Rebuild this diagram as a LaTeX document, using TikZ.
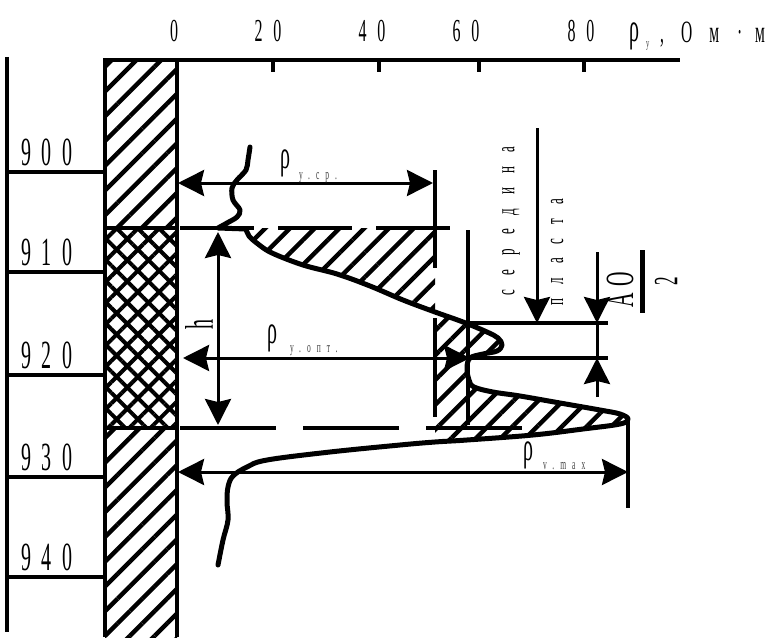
\documentclass[tikz,border=0pt]{standalone}
\usepackage{fontspec}
\setmainfont{Liberation Serif}[FakeStretch=0.5]
\usetikzlibrary{arrows.meta,patterns.meta,positioning}

\tikzstyle{border}   = [line width=4pt]
\tikzstyle{dimline}  = [line width=3pt, <->]
\tikzstyle{pointer}  = [line width=3pt, ->]
\tikzstyle{logline}  = [line width=5pt, line join=round, line cap=round]
\tikzstyle{hatched}  = [pattern={Lines[angle=45,distance=17.5pt,line width=4.5pt]}]
\tikzstyle{xhatched} = [pattern={Hatch[angle=45,distance=15pt,line width=4pt]}]
\tikzstyle{depthlbl} = [inner sep=0pt, font=\fontsize{40}{40}\selectfont\addfontfeature{LetterSpace=26}]
\tikzstyle{scalelbl} = [inner sep=0pt, font=\fontsize{32}{32}\selectfont\addfontfeature{LetterSpace=34}]
\tikzstyle{rho}      = [inner sep=0pt, anchor=base, font=\fontsize{40}{40}\selectfont]
\tikzstyle{sublbl}   = [inner sep=0pt, anchor=base west, text=black!75, font=\fontsize{15}{15}\selectfont\addfontfeature{LetterSpace=40}]
\tikzstyle{vertlbl}  = [inner sep=0pt, rotate=90, font=\fontsize{26}{26}\selectfont\addfontfeature{LetterSpace=54}]

\begin{document}
\begin{tikzpicture}[x=1pt, y=-1pt, >={Stealth[length=26pt,width=26pt,inset=3pt]}]
\useasboundingbox (0,0) rectangle (779,642);

% column of the well
\fill[hatched] (105,60) rectangle (177,228);
\fill[xhatched] (105,228) rectangle (177,428);
\fill[hatched] (105,428) rectangle (177,637);

% hatched areas under the curve
\fill[hatched] (248,228) -- (435,228) -- (435,312) -- plot[smooth,tension=0.6] coordinates {(435,312) (403,300) (370,286) (337,274) (303,265) (272,253) (258,244) (249,236) (246,229)} -- cycle;
\fill[hatched] plot[smooth,tension=0.6] coordinates {(435,312) (463,322) (487,332) (498,338) (502,345) (497,351) (483,354) (470,358) (467,368) (469,380) (474,387) (493,392) (520,396) (560,403) (600,410) (620,414) (628,419) (620,424) (583,429) (533,435) (467,440) (435,442)} -- cycle;

% named points
\coordinate (colTL) at (105,60);
\coordinate (colTR) at (177,60);
\coordinate (colBL) at (105,637);
\coordinate (colBR) at (177,637);
\coordinate (axEnd) at (680,60);
\coordinate (bedTL) at (105,228);
\coordinate (bedTR) at (177,228);
\coordinate (bedBL) at (105,428);
\coordinate (bedBR) at (177,428);
\coordinate (depthT) at (7,57);
\coordinate (depthB) at (7,632);
\coordinate (topL) at (180,228);
\coordinate (topR) at (450,228);
\coordinate (botL) at (180,428);
\coordinate (botR) at (522,428);
\coordinate (srL) at (178,183);
\coordinate (srR) at (433,183);
\coordinate (srT) at (435,170);
\coordinate (srB) at (435,268);
\coordinate (opL) at (183,358);
\coordinate (opR) at (470,358);
\coordinate (opE) at (608,358);
\coordinate (opT) at (435,318);
\coordinate (opB) at (435,417);
\coordinate (pkT) at (468,230);
\coordinate (pkB) at (468,425);
\coordinate (pkL) at (468,323);
\coordinate (pkR) at (608,323);
\coordinate (mxL) at (178,472);
\coordinate (mxR) at (628,472);
\coordinate (mxT) at (628,420);
\coordinate (mxB) at (628,508);
\coordinate (hT) at (218,232);
\coordinate (hB) at (218,425);
\coordinate (midT) at (537,128);
\coordinate (midB) at (537,323);
\coordinate (dOT) at (597,252);
\coordinate (dOU) at (597,323);
\coordinate (dOL) at (597,358);
\coordinate (dOB) at (597,397);
\coordinate (barT) at (642,250);
\coordinate (barB) at (642,313);

% column and scale
\draw[border] (colBL) -- (colTL) -- (axEnd);
\draw[border] (colTR) -- (colBR);
\draw[border] (bedTL) -- (bedTR);
\draw[border] (bedBL) -- (bedBR);
\draw[border] (depthT) -- (depthB);
\foreach \x in {273,379,479,584}
  \draw[line width=4pt] (\x,60) -- (\x,72);
\node[scalelbl] (s0) at (174,31) {0};
\foreach \x/\v in {268/20,372/40,466/60,581/80}
  \node[scalelbl] (s\v) at (\x,31) {\v};
\node[rho] (ru) at (634,42) {ρ};
\node[sublbl, font=\fontsize{13}{13}\selectfont] (rus) at (646,48) {у};
\node[inner sep=0pt, anchor=base west, font=\fontsize{31}{31}\selectfont] (unit) at (660,43) {,\hspace{17pt}О\hspace{17pt}м\hspace{18pt}·\hspace{13pt}м};

% depth scale
\foreach \y/\d in {172/900,272/910,375/920,477/930,577/940} {
  \coordinate (w\d) at (7,\y);
  \coordinate (e\d) at (105,\y);
  \draw[border] (w\d) -- (e\d);
  \node[depthlbl] (d\d) at (47,\y-20) {\d};
}

% bed boundaries and auxiliary lines
\draw[border, dash pattern=on 74pt off 24pt] (topL) -- (topR);
\draw[border, dash pattern=on 96pt off 27pt] (botL) -- (botR);
\draw[border] (srT) -- (srB);
\draw[border] (opT) -- (opB);
\draw[border] (pkT) -- (pkB);
\draw[border] (pkL) -- (pkR);
\draw[border] (opR) -- (opE);
\draw[border] (mxT) -- (mxB);

% resistivity curve
\draw[logline] plot[smooth,tension=0.55] coordinates {(250,147) (248,160) (246,170) (237,180) (232,188) (233,200) (240,210) (237,217) (227,223) (218,228)} -- (246,229) -- plot[smooth,tension=0.6] coordinates {(246,229) (249,236) (258,244) (272,253) (303,265) (337,274) (370,286) (403,300) (435,312) (463,322) (487,332) (498,338) (502,345) (497,351) (483,354) (470,358) (467,368) (469,380) (474,387) (493,392) (520,396) (560,403) (600,410) (620,414) (628,419) (620,424) (583,429) (533,435) (467,440) (435,442) (400,445) (330,452) (267,460) (247,467) (233,476) (228,487) (227,502) (228,520) (223,540) (218,565)};

% dimensions
\draw[dimline] (srL) -- (srR);
\draw[dimline] (opL) -- (opR);
\draw[dimline] (mxL) -- (mxR);
\draw[dimline] (hT) -- (hB);
\draw[pointer] (midT) -- (midB);
\draw[pointer] (dOT) -- (dOU);
\draw[line width=3pt] (dOU) -- (dOL);
\draw[pointer] (dOB) -- (dOL);
\draw[line width=5pt] (barT) -- (barB);

% labels
\node[rho] (rsr) at (285,168) {ρ};
\node[sublbl] (rsrs) at (299,179) {у.ср.};
\node[rho] (ropt) at (272,343) {ρ};
\node[sublbl] (ropts) at (290,352) {у.опт.};
\node[rho] (rmax) at (528,460) {ρ};
\node[sublbl] (rmaxs) at (543,469) {v.max};
\node[inner sep=0pt, rotate=90, font=\fontsize{40}{40}\selectfont] (hl) at (199,324) {h};
\node[vertlbl] (mid) at (511,221) {середина};
\node[vertlbl] (pl) at (557,252) {пласта};
\node[inner sep=0pt, rotate=90, font=\fontsize{40}{40}\selectfont\addfontfeature{LetterSpace=20}] (dO) at (620,290) {АО};
\node[inner sep=0pt, rotate=90, font=\fontsize{34}{34}\selectfont] (two) at (666,281) {2};
\end{tikzpicture}
\end{document}
